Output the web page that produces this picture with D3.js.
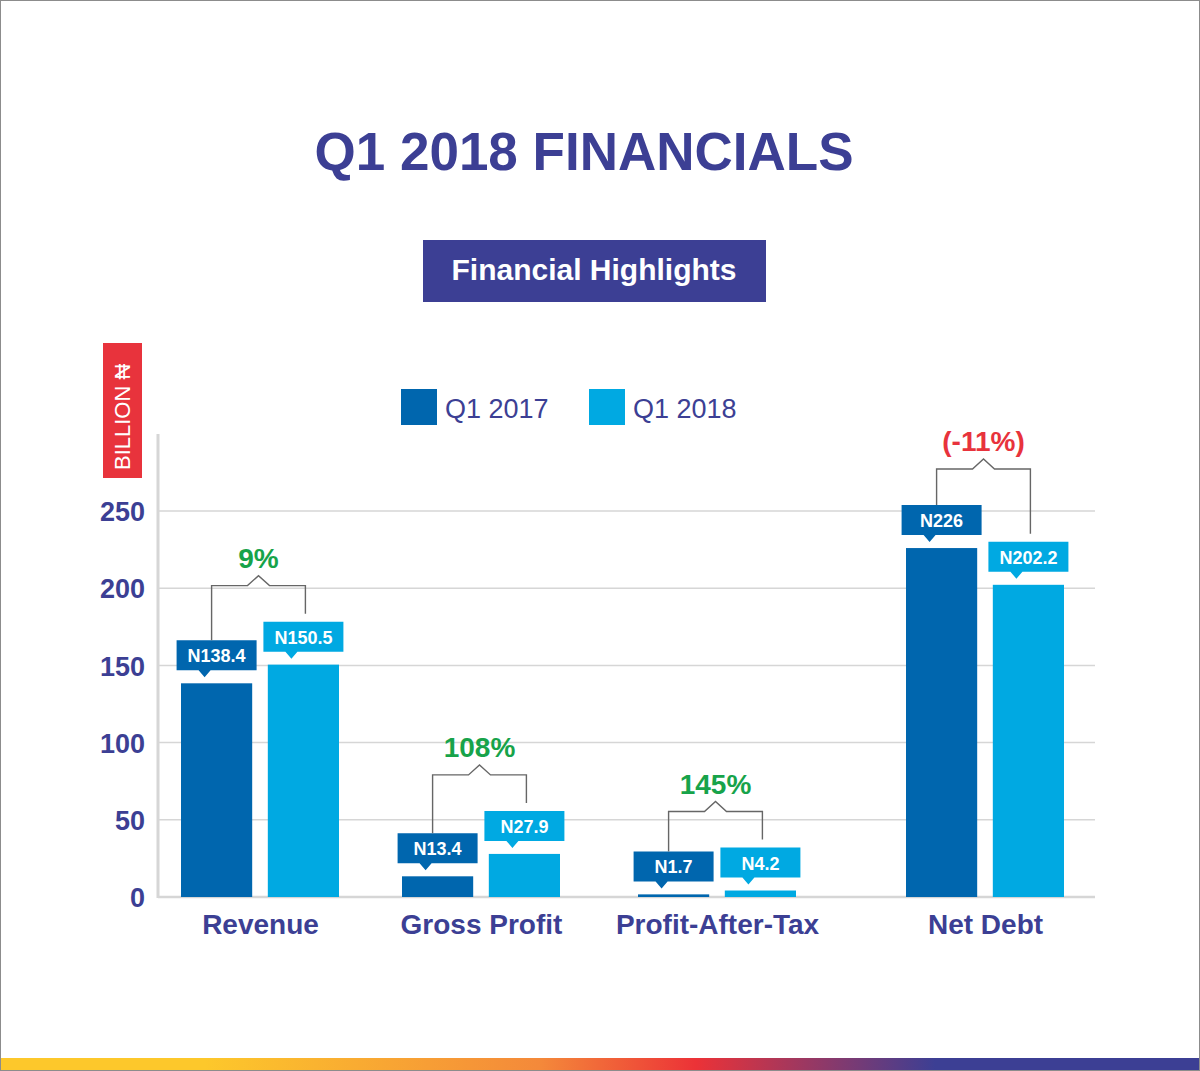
<!DOCTYPE html>
<html>
<head>
<meta charset="utf-8">
<script src="https://cdn.jsdelivr.net/npm/d3@7"></script>
<style>
  body { margin: 0; background: #fff; }
  svg { display: block; font-family: "Liberation Sans", Arial, sans-serif; }
</style>
</head>
<body>
<svg width="1200" height="1071"></svg>
<script>
// chart data
var categories = ["Revenue", "Gross Profit", "Profit-After-Tax", "Net Debt"];
var series = ["Q1 2017", "Q1 2018"];
var q1_2017 = [138.4, 13.4, 1.7, 226];
var q1_2018 = [150.5, 27.9, 4.2, 202.2];
var valueLabels2017 = ["N138.4", "N13.4", "N1.7", "N226"];
var valueLabels2018 = ["N150.5", "N27.9", "N4.2", "N202.2"];
var changeLabels = ["9%", "108%", "145%", "(-11%)"];
var yTicks = [0, 50, 100, 150, 200, 250];

var navy = "#3c3f94",
    dark = "#0066ae",
    light = "#00a9e2",
    green = "#17a34a",
    red = "#e8333c";

var svg = d3.select("svg");

// frame
svg.append("rect")
    .attr("x", 0.5).attr("y", 0.5)
    .attr("width", 1199).attr("height", 1070)
    .attr("fill", "#fff").attr("stroke", "#8c8c8c");

// bottom gradient strip
var grad = svg.append("defs").append("linearGradient").attr("id", "strip");
[[0, "#fdc82b"], [0.17, "#fdc82b"], [0.45, "#f4893a"], [0.58, "#ec3237"], [0.78, "#3c3f94"], [1, "#3c3f94"]]
  .forEach(function(s) {
    grad.append("stop").attr("offset", s[0]).attr("stop-color", s[1]);
  });
svg.append("rect")
    .attr("x", 1).attr("y", 1058).attr("width", 1198).attr("height", 12)
    .attr("fill", "url(#strip)");

// title
svg.append("text")
    .attr("x", 584).attr("y", 170)
    .attr("text-anchor", "middle")
    .attr("fill", navy)
    .style("font-size", "53px").style("font-weight", "bold")
    .text("Q1 2018 FINANCIALS");

// subtitle box
svg.append("rect")
    .attr("x", 423).attr("y", 240).attr("width", 343).attr("height", 62)
    .attr("fill", navy);
svg.append("text")
    .attr("x", 594).attr("y", 280)
    .attr("text-anchor", "middle")
    .attr("fill", "#fff")
    .style("font-size", "30px").style("font-weight", "bold")
    .text("Financial Highlights");

// unit label
svg.append("rect")
    .attr("x", 103).attr("y", 343).attr("width", 39).attr("height", 135)
    .attr("fill", red);
svg.append("text")
    .attr("transform", "translate(130,470) rotate(-90)")
    .attr("fill", "#fff")
    .style("font-size", "22px")
    .text("BILLION \u20A6");

// legend
var color = d3.scaleOrdinal().domain(series).range([dark, light]);
var legend = svg.selectAll(".legend")
    .data(series)
  .enter().append("g")
    .attr("class", "legend")
    .attr("transform", function(d, i) { return "translate(" + (401 + i * 188) + ",389)"; });
legend.append("rect")
    .attr("width", 36).attr("height", 36)
    .attr("fill", function(d) { return color(d); });
legend.append("text")
    .attr("x", 44).attr("y", 29)
    .attr("fill", navy)
    .style("font-size", "27px")
    .text(function(d) { return d; });

// scales
var y = d3.scaleLinear().domain([0, 250]).range([897, 511]);
var x = d3.scaleOrdinal().domain(categories).range([260, 481, 717, 985]);
var xs = d3.scaleBand().domain(series).range([-79, 79]).paddingInner(0.18);

// grid
svg.append("g")
    .selectAll("line")
    .data(yTicks)
  .enter().append("line")
    .attr("x1", 158).attr("x2", 1095)
    .attr("y1", function(d) { return y(d); })
    .attr("y2", function(d) { return y(d); })
    .attr("stroke", "#d6d6d6")
    .attr("stroke-width", function(d) { return d === 0 ? 2.5 : 1.5; });
svg.append("line")
    .attr("x1", 158).attr("x2", 158)
    .attr("y1", 434).attr("y2", 898)
    .attr("stroke", "#d6d6d6").attr("stroke-width", 3);

// y axis labels
var yAxis = svg.append("g")
    .attr("transform", "translate(145,0)")
    .call(d3.axisLeft(y).tickValues(yTicks).tickSize(0).tickPadding(0));
yAxis.select(".domain").remove();
yAxis.selectAll("text")
    .attr("fill", navy)
    .attr("dy", "0.36em")
    .style("font-family", "Liberation Sans, Arial, sans-serif")
    .style("font-size", "27px").style("font-weight", "bold");

// x axis labels
var xAxis = svg.append("g")
    .attr("transform", "translate(0,897)")
    .call(d3.axisBottom(x).tickSize(0).tickPadding(0));
xAxis.select(".domain").remove();
xAxis.selectAll("text")
    .attr("fill", navy)
    .attr("dy", "0")
    .attr("y", 37)
    .style("font-family", "Liberation Sans, Arial, sans-serif")
    .style("font-size", "28px").style("font-weight", "bold");

// bars
var rows = categories.map(function(c, i) {
  return {
    cat: c,
    change: changeLabels[i],
    vals: [
      { s: series[0], v: q1_2017[i], label: valueLabels2017[i] },
      { s: series[1], v: q1_2018[i], label: valueLabels2018[i] }
    ]
  };
});

var groups = svg.selectAll(".group")
    .data(rows)
  .enter().append("g")
    .attr("class", "group")
    .attr("transform", function(d) { return "translate(" + x(d.cat) + ",0)"; });

groups.selectAll(".bar")
    .data(function(d) { return d.vals; })
  .enter().append("rect")
    .attr("class", "bar")
    .attr("x", function(d) { return xs(d.s); })
    .attr("y", function(d) { return y(d.v); })
    .attr("width", xs.bandwidth())
    .attr("height", function(d) { return y(0) - y(d.v); })
    .attr("fill", function(d) { return color(d.s); });

// value callouts
var boxW = 80, boxH = 30, gap = 13;
var callout = groups.selectAll(".callout")
    .data(function(d) { return d.vals; })
  .enter().append("g")
    .attr("class", "callout")
    .attr("transform", function(d) {
      var cx = xs(d.s) + xs.bandwidth() / 2;
      return "translate(" + cx + "," + (y(d.v) - gap) + ")";
    });
callout.append("path")
    .attr("d", "M" + (-boxW / 2) + "," + (-boxH) + "h" + boxW + "v" + boxH +
               "H-6l-6,7l-6,-7H" + (-boxW / 2) + "Z")
    .attr("fill", function(d) { return color(d.s); });
callout.append("text")
    .attr("y", -8)
    .attr("text-anchor", "middle")
    .attr("fill", "#fff")
    .style("font-size", "18px").style("font-weight", "bold")
    .text(function(d) { return d.label; });

// change brackets
groups.each(function(d) {
  var g = d3.select(this);
  var x0 = xs(series[0]) + xs.bandwidth() / 2 - 5;
  var x1 = xs(series[1]) + xs.bandwidth() / 2 + 2;
  var top0 = y(d.vals[0].v) - gap - boxH;
  var top1 = y(d.vals[1].v) - gap - boxH;
  var by = Math.min(top0, top1) - 36;
  var mid = (x0 + x1) / 2;
  g.append("path")
      .attr("d", "M" + x0 + "," + top0 + "V" + by + "H" + (mid - 11) +
                 "L" + mid + "," + (by - 10) + "L" + (mid + 11) + "," + by +
                 "H" + x1 + "V" + (top1 - 8))
      .attr("fill", "none")
      .attr("stroke", "#666")
      .attr("stroke-width", 1.4);
  g.append("text")
      .attr("x", mid)
      .attr("y", by - 18)
      .attr("text-anchor", "middle")
      .attr("fill", d.change.charAt(0) === "(" ? red : green)
      .style("font-size", "28px").style("font-weight", "bold")
      .text(d.change);
});
</script>
</body>
</html>
